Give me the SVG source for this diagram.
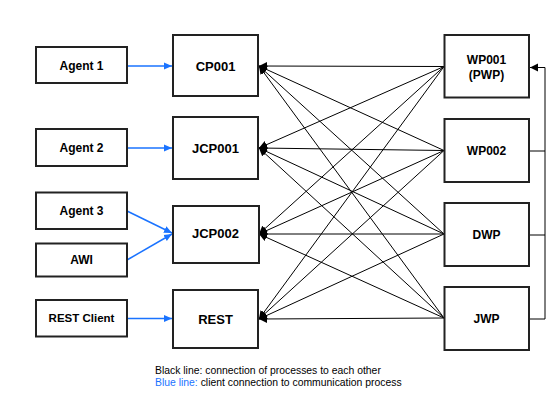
<svg xmlns="http://www.w3.org/2000/svg" width="560" height="405" viewBox="0 0 560 405">
<style>
.box{fill:#fff;stroke:#222;stroke-width:2}
.lbl{font-family:"Liberation Sans",Arial,sans-serif;font-weight:bold;font-size:12px;fill:#000;text-anchor:middle}
.big{font-size:13px}
.sm{font-size:11.5px}
.blk{stroke:#000;stroke-width:1;fill:none;marker-end:url(#ab)}
.blu{stroke:#1a73ff;stroke-width:1.5;fill:none;marker-end:url(#au)}
.fb{stroke:#000;stroke-width:1;fill:none}
.note{font-family:"Liberation Sans",Arial,sans-serif;font-size:10.4px;fill:#000}
</style>
<defs>
<marker id="ab" markerUnits="userSpaceOnUse" markerWidth="9" markerHeight="9" refX="8" refY="4" orient="auto"><path d="M0,0 L8,4 L0,8 z" fill="#000"/></marker>
<marker id="au" markerUnits="userSpaceOnUse" markerWidth="9" markerHeight="9" refX="8" refY="4" orient="auto"><path d="M0,0.5 L8,4 L0,7.5 z" fill="#1a73ff"/></marker>
</defs>
<rect width="560" height="405" fill="#fff"/>
<g id="connectors">
<path class="blu" d="M127,66 L172,66"/>
<path class="blu" d="M127,148 L172,148"/>
<path class="blu" d="M127,211 L172,233"/>
<path class="blu" d="M127,260 L172,234"/>
<path class="blu" d="M127,318.5 L172,318.5"/>
<path class="blk" d="M444,66.5 L259,66"/>
<path class="blk" d="M444,150.5 L259,66"/>
<path class="blk" d="M444,234 L259,66"/>
<path class="blk" d="M444,318 L259,66"/>
<path class="blk" d="M444,66.5 L259,148"/>
<path class="blk" d="M444,150.5 L259,148"/>
<path class="blk" d="M444,234 L259,148"/>
<path class="blk" d="M444,318 L259,148"/>
<path class="blk" d="M444,66.5 L259,234"/>
<path class="blk" d="M444,150.5 L259,234"/>
<path class="blk" d="M444,234 L259,234"/>
<path class="blk" d="M444,318 L259,234"/>
<path class="blk" d="M444,66.5 L259,319"/>
<path class="blk" d="M444,150.5 L259,319"/>
<path class="blk" d="M444,234 L259,319"/>
<path class="blk" d="M444,318 L259,319"/>
<path class="fb" d="M529,151 L545,151 M529,235 L545,235 M529,319 L545,319 L545,67.5"/>
<path class="blk" d="M545,67.5 L530,67.5"/>
</g>
<g id="agent1"><rect class="box" x="36" y="47" width="91" height="36"/><text class="lbl" x="81.5" y="69.5">Agent 1</text></g>
<g id="agent2"><rect class="box" x="36" y="129" width="91" height="37"/><text class="lbl" x="81.5" y="151.7">Agent 2</text></g>
<g id="agent3"><rect class="box" x="36" y="192.5" width="91" height="36.5"/><text class="lbl" x="81.5" y="215">Agent 3</text></g>
<g id="awi"><rect class="box" x="36" y="243.5" width="91" height="33"/><text class="lbl" x="81.5" y="264">AWI</text></g>
<g id="restclient"><rect class="box" x="36" y="300" width="91" height="36.5"/><text class="lbl sm" x="81.5" y="322">REST Client</text></g>
<g id="cp001"><rect class="box" x="173" y="35" width="85" height="61"/><text class="lbl big" x="215.5" y="70.5">CP001</text></g>
<g id="jcp001"><rect class="box" x="173" y="117" width="85" height="62"/><text class="lbl big" x="215.5" y="152.5">JCP001</text></g>
<g id="jcp002"><rect class="box" x="173" y="206" width="86" height="57"/><text class="lbl big" x="215.5" y="238">JCP002</text></g>
<g id="rest"><rect class="box" x="173" y="290" width="85" height="58"/><text class="lbl big" x="215.5" y="323.5">REST</text></g>
<g id="wp001"><rect class="box" x="444.5" y="35" width="84.5" height="62.5"/><text class="lbl" x="486.5" y="63.5">WP001</text><text class="lbl" x="486.5" y="79">(PWP)</text></g>
<g id="wp002"><rect class="box" x="444.5" y="119" width="84.5" height="63"/><text class="lbl" x="486.5" y="155">WP002</text></g>
<g id="dwp"><rect class="box" x="444.5" y="203" width="84.5" height="63"/><text class="lbl" x="486.5" y="239">DWP</text></g>
<g id="jwp"><rect class="box" x="444.5" y="287" width="84.5" height="63"/><text class="lbl" x="486.5" y="322.5">JWP</text></g>
<g id="legend">
<text class="note" x="155" y="373.5">Black line: connection of processes to each other</text>
<text class="note" x="155" y="385.5"><tspan fill="#1a73ff">Blue line:</tspan> client connection to communication process</text>
</g>
</svg>
